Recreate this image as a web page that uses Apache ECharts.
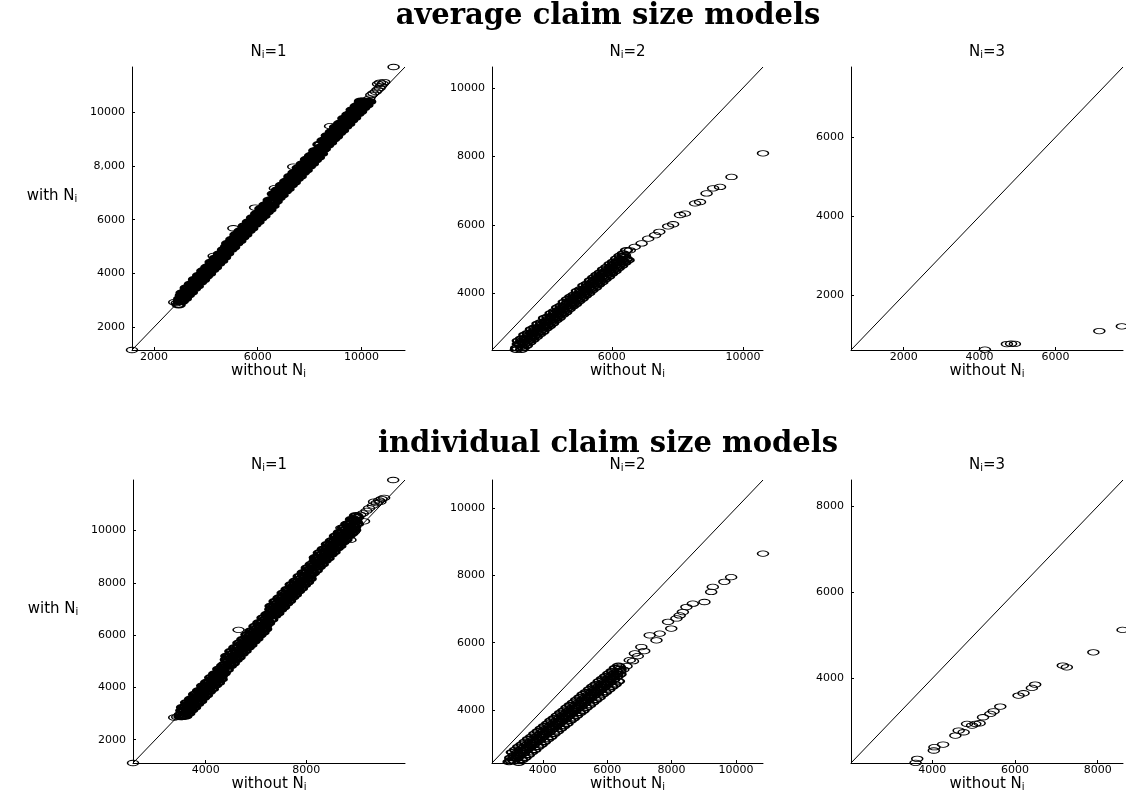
<!DOCTYPE html>
<html>
<head>
<meta charset="utf-8">
<script src="https://cdn.jsdelivr.net/npm/echarts@6/dist/echarts.min.js"></script>
<style>
html,body{margin:0;padding:0;background:#fff;}
#chart{width:1126px;height:792px;}
</style>
</head>
<body>
<div id="chart"></div>
<script>
// ---------------- DATA ----------------
const mainTitles = ['average claim size models', 'individual claim size models'];
const panelNs = ['1', '2', '3', '1', '2', '3'];

// average claim size, N_i = 1  ([without N_i, with N_i])
const avgN1Range = [1150, 11680];
const avgN1XTicks = [2000, 6000, 10000];
const avgN1YTicks = [2000, 4000, 6000, 8000, 10000];
const avgN1YLabels = ['2000', '4000', '6000', '8,000', '10000'];
const avgN1Band1 = [[2950,2830],[3070,2960],[3190,3060],[3300,3190],[3420,3290],[3540,3430],[3650,3520],[3770,3660],[3890,3760],[4000,3890],[4120,3990],[4240,4130],[4350,4220],[4470,4360],[4590,4460],[4700,4590],
[4820,4740],[4940,4880],[5050,4970],[5170,5110],[5290,5210],[5400,5340],[5520,5440],[5640,5580],[5750,5670],[5870,5810],[5990,5910],[6100,6040],[6220,6140],[6340,6280],[6450,6370],[6570,6510],
[6690,6680],[6800,6810],[6920,6910],[7040,7050],[7150,7140],[7270,7280],[7390,7380],[7500,7510],[7620,7610],[7740,7750],[7850,7840],[7970,7980],[8090,8080],[8200,8210],[8320,8310],[8440,8450],
[8550,8630],[8670,8760],[8790,8860],[8900,8990],[9020,9090],[9140,9230],[9250,9320],[9370,9460],[9490,9560],[9600,9690],[9720,9790],[9840,9930],[9950,10020],[10070,10160],[10190,10260],[10300,10390]];
const avgN1Band2 = [[2990,2950],[3110,3070],[3230,3190],[3340,3300],[3460,3420],[3580,3540],[3690,3650],[3810,3770],[3930,3890],[4040,4000],[4160,4120],[4280,4240],[4390,4350],[4510,4470],[4630,4590],[4740,4700],
[4860,4880],[4980,5000],[5090,5110],[5210,5230],[5330,5350],[5440,5460],[5560,5580],[5680,5700],[5790,5810],[5910,5930],[6030,6050],[6140,6160],[6260,6280],[6380,6400],[6490,6510],[6610,6630],
[6730,6820],[6840,6940],[6960,7050],[7080,7180],[7190,7280],[7310,7410],[7430,7520],[7540,7640],[7660,7750],[7780,7880],[7890,7980],[8010,8110],[8130,8220],[8240,8340],[8360,8450],[8480,8580],
[8590,8770],[8710,8880],[8830,9010],[8940,9110],[9060,9240],[9180,9350],[9290,9470],[9410,9580],[9530,9710],[9640,9810],[9760,9940],[9880,10050],[9990,10170],[10110,10280],[10230,10400]];
const avgN1Band3 = [[3010,3060],[3130,3160],[3250,3300],[3360,3390],[3480,3530],[3600,3630],[3710,3760],[3830,3860],[3950,4000],[4060,4090],[4180,4230],[4300,4330],[4410,4460],[4530,4560],[4650,4700],[4760,4790],
[4880,4990],[5000,5100],[5110,5230],[5230,5330],[5350,5470],[5460,5560],[5580,5700],[5700,5800],[5810,5930],[5930,6030],[6050,6170],[6160,6260],[6280,6400],[6400,6500],[6510,6630],[6630,6730],
[6750,6950],[6860,7040],[6980,7180],[7100,7280],[7210,7410],[7330,7510],[7450,7650],[7560,7740],[7680,7880],[7800,7980],[7910,8110],[8030,8210],[8150,8350],[8260,8440],[8380,8580],[8500,8680],
[8610,8890],[8730,8990],[8850,9130],[8960,9220],[9080,9360],[9200,9460],[9310,9590],[9430,9690],[9550,9830],[9660,9920],[9780,10060],[9900,10160],[10010,10290],[10130,10390]];
const avgN1Band4 = [[3070,3190],[3190,3310],[3310,3430],[3420,3540],[3540,3660],[3660,3780],[3770,3890],[3890,4010],[4010,4130],[4120,4240],[4240,4360],[4360,4480],[4470,4590],[4590,4710],[4710,4830],
[4820,5010],[4940,5130],[5060,5250],[5170,5360],[5290,5480],[5410,5600],[5520,5710],[5640,5830],[5760,5950],[5870,6060],[5990,6180],[6110,6300],[6220,6410],[6340,6530],[6460,6650],[6570,6760],
[6690,6955],[6810,7075],[6920,7185],[7040,7305],[7160,7425],[7270,7535],[7390,7655],[7510,7775],[7620,7885],[7740,8005],[7860,8125],[7970,8235],[8090,8355],[8210,8475],[8320,8585],[8440,8705],
[8560,8905],[8670,9015],[8790,9135],[8910,9255],[9020,9365],[9140,9485],[9260,9605],[9370,9715],[9490,9835],[9610,9955],[9720,10065],[9840,10185],[9960,10305],[10070,10415]];
const avgN1Band5 = [[3100,3280],[3260,3460],[3420,3600],[3580,3780],[3740,3930],[3900,4100],[4060,4240],[4220,4420],[4380,4570],[4540,4730],[4700,4890],
[4860,5120],[5020,5270],[5180,5450],[5340,5590],[5500,5770],[5660,5920],[5820,6080],[5980,6230],[6140,6410],[6300,6550],[6460,6730],
[6620,6960],[6780,7110],[6940,7290],[7100,7430],[7260,7610],[7420,7750],[7580,7930],[7740,8080],[7900,8250],[8060,8390],[8220,8570],
[8380,8800],[8540,8950],[8700,9130],[8860,9270],[9020,9450],[9180,9590],[9340,9770],[9500,9910],[9660,10090],[9820,10230],[9980,10410]];
const avgN1Sparse = [[1150,1150],[2780,2930],[2880,2900],[4300,4650],[5060,5680],[5900,6450],[6660,7170],[7370,7970],[8790,9480],
[10300,10500],[10380,10640],[10460,10700],[10550,10760],[10620,10830],[10700,10900],[10760,10980],[10820,11060],[10720,11100],[10640,11050],[10880,11120],[11240,11680]];

// average claim size, N_i = 2
const avgN2Range = [2350, 10610];
const avgN2XTicks = [6000, 10000];
const avgN2YTicks = [4000, 6000, 8000, 10000];
const avgN2Band1 = [[3150,2620],[3250,2680],[3350,2790],[3450,2840],[3550,2950],[3650,3000],[3750,3110],[3850,3160],[3950,3280],[4050,3320],[4150,3420],[4250,3480],[4350,3590],[4450,3640],[4550,3750],[4650,3830],[4750,3900],[4850,3960],[4950,4070],[5050,4120],[5150,4230],[5250,4280],[5350,4380],[5450,4460],[5550,4540],[5650,4610],[5750,4700],[5850,4770],[5950,4860],[6050,4920],[6150,5020],[6250,5100],[6350,5160],[6450,5260]];
const avgN2Band2 = [[3150,2525],[3250,2605],[3350,2685],[3450,2765],[3550,2845],[3650,2925],[3750,3005],[3850,3085],[3950,3165],[4050,3245],[4150,3325],[4250,3405],[4350,3485],[4450,3565],[4550,3645],[4650,3725],[4750,3805],[4850,3885],[4950,3965],[5050,4045],[5150,4125],[5250,4205],[5350,4285],[5450,4365],[5550,4445],[5650,4525],[5750,4605],[5850,4685],[5950,4765],[6050,4845],[6150,4925],[6250,5005],[6350,5085]];
const avgN2Band3 = [[3090,2360],[3100,2410],[3200,2500],[3300,2570],[3400,2660],[3500,2730],[3600,2820],[3700,2890],[3800,2980],[3900,3050],[4000,3140],[4100,3210],[4200,3300],[4300,3370],[4400,3460],[4500,3530],[4600,3620],[4700,3690],[4800,3780],[4900,3850],[5000,3940],[5100,4010],[5200,4100],[5300,4170],[5400,4260],[5500,4330],[5600,4420],[5700,4490],[5800,4580],[5900,4650],[6000,4740],[6100,4810],[6200,4900],[6300,4970],[6400,5060]];
const avgN2Band4 = [[3250,2445],[3350,2525],[3450,2605],[3550,2685],[3650,2765],[3750,2845],[3850,2925],[3950,3005],[4050,3085],[4150,3165],[4250,3245],[4350,3325],[4450,3405],[4550,3485],[4650,3565],[4750,3645],[4850,3725],[4950,3805],[5050,3885],[5150,3965],[5250,4045],[5350,4125],[5450,4205],[5550,4285],[5650,4365],[5750,4445],[5850,4525],[5950,4605],[6050,4685],[6150,4765],[6250,4845],[6350,4925],[6450,5005]];
const avgN2Band5 = [[3250,2360],[3300,2410],[3400,2480],[3500,2570],[3600,2650],[3700,2730],[3800,2810],[3900,2880],[4000,2980],[4100,3050],[4200,3130],[4300,3220],[4400,3290],[4500,3380],[4600,3450],[4700,3540],[4800,3620],[4900,3690],[5000,3780],[5100,3850],[5200,3940],[5300,4010],[5400,4100],[5500,4170],[5600,4260],[5700,4330],[5800,4420],[5900,4490],[6000,4580],[6100,4650],[6200,4740],[6300,4810],[6400,4900],[6500,4970]];
const avgN2Sparse = [[6400,5120],[6550,5260],[6700,5360],[6910,5460],[7110,5600],[7320,5700],[7450,5800],[7720,5960],[7870,6020],[8080,6290],[8230,6330],[8540,6630],[8690,6670],[8890,6920],[9090,7070],[9300,7110],[9650,7400],[10610,8090]];

// average claim size, N_i = 3
const avgN3Range = [610, 7780];
const avgN3XTicks = [2000, 4000, 6000];
const avgN3YTicks = [2000, 4000, 6000];
const avgN3Pts = [[4140,620],[4720,760],[4830,770],[4930,765],[7156,1090],[7750,1210]];

// individual claim size, N_i = 1
const indN1Range = [1110, 11930];
const indN1XTicks = [4000, 8000];
const indN1YTicks = [2000, 4000, 6000, 8000, 10000];
const indN1Band1 = [[3000,2880],[3100,2900],[3190,2900],[3310,3000],[3420,3130],[3540,3230],[3660,3370],[3780,3470],[3900,3610],[4010,3700],[4130,3840],[4250,3940],[4370,4080],[4490,4180],[4600,4310],
[4720,4580],[4840,4680],[4960,4820],[5080,4920],[5190,5050],[5310,5150],[5430,5290],[5550,5390],[5670,5530],[5780,5620],[5900,5760],[6020,5860],[6140,6000],[6260,6100],[6370,6230],
[6490,6500],[6610,6600],[6730,6740],[6850,6840],[6960,6970],[7080,7070],[7200,7210],[7320,7310],[7440,7450],[7550,7540],[7670,7680],[7790,7780],[7910,7920],[8030,8020],[8140,8150],
[8260,8370],[8380,8470],[8500,8610],[8620,8710],[8730,8840],[8850,8940],[8970,9080],[9090,9180],[9210,9320],[9320,9410],[9440,9550],[9560,9650],[9680,9790],[9800,9890],[9910,10020]];
const indN1Band2 = [[3060,2885],[3180,3005],[3300,3125],[3420,3245],[3530,3355],[3650,3475],[3770,3595],[3890,3715],[4010,3835],[4120,3945],[4240,4065],[4360,4185],[4480,4305],[4600,4425],[4710,4535],
[4830,4805],[4950,4925],[5070,5045],[5190,5165],[5300,5275],[5420,5395],[5540,5515],[5660,5635],[5780,5755],[5890,5865],[6010,5985],[6130,6105],[6250,6225],[6370,6345],[6480,6455],
[6600,6725],[6720,6845],[6840,6965],[6960,7085],[7070,7195],[7190,7315],[7310,7435],[7430,7555],[7550,7675],[7660,7785],[7780,7905],[7900,8025],[8020,8145],[8140,8265],[8250,8375],
[8370,8595],[8490,8715],[8610,8835],[8730,8955],[8840,9065],[8960,9185],[9080,9305],[9200,9425],[9320,9545],[9430,9655],[9550,9775],[9670,9895],[9790,10015],[9910,10135],[10020,10245]];
const indN1Band3 = [[3010,2960],[3130,3090],[3250,3190],[3370,3330],[3480,3430],[3600,3560],[3720,3660],[3840,3800],[3960,3900],[4070,4030],[4190,4130],[4310,4270],[4430,4370],[4550,4510],[4660,4610],
[4780,4890],[4900,4990],[5020,5130],[5140,5230],[5250,5360],[5370,5460],[5490,5600],[5610,5700],[5730,5840],[5840,5930],[5960,6070],[6080,6170],[6200,6310],[6320,6410],[6430,6540],
[6550,6810],[6670,6910],[6790,7050],[6910,7150],[7020,7280],[7140,7380],[7260,7520],[7380,7620],[7500,7760],[7610,7850],[7730,7990],[7850,8090],[7970,8230],[8090,8330],[8200,8460],
[8320,8680],[8440,8780],[8560,8920],[8680,9020],[8790,9150],[8910,9250],[9030,9390],[9150,9490],[9270,9630],[9380,9720],[9500,9860],[9620,9960],[9740,10100],[9860,10200],[9970,10330]];
const indN1Band4 = [[3070,3120],[3190,3240],[3310,3360],[3430,3480],[3540,3590],[3660,3710],[3780,3830],[3900,3950],[4020,4070],[4130,4180],[4250,4300],[4370,4420],[4490,4540],[4610,4660],[4720,4770],
[4840,5065],[4960,5185],[5080,5305],[5200,5425],[5310,5535],[5430,5655],[5550,5775],[5670,5895],[5790,6015],[5900,6125],[6020,6245],[6140,6365],[6260,6485],[6380,6605],[6490,6715],
[6610,6985],[6730,7105],[6850,7225],[6970,7345],[7080,7455],[7200,7575],[7320,7695],[7440,7815],[7560,7935],[7670,8045],[7790,8165],[7910,8285],[8030,8405],[8150,8525],[8260,8635],
[8380,8855],[8500,8975],[8620,9095],[8740,9215],[8850,9325],[8970,9445],[9090,9565],[9210,9685],[9330,9805],[9440,9915],[9560,10035],[9680,10155],[9800,10275],[9920,10395],[10030,10505]];
const indN1Band5 = [[3100,3240],[3260,3420],[3420,3560],[3580,3740],[3740,3880],[3900,4060],[4060,4200],[4220,4380],[4380,4520],[4540,4700],[4700,4840],
[4860,5200],[5020,5380],[5180,5520],[5340,5700],[5500,5840],[5660,6020],[5820,6160],[5980,6340],[6140,6480],[6300,6660],[6460,6800],
[6620,7110],[6780,7290],[6940,7430],[7100,7610],[7260,7750],[7420,7930],[7580,8070],[7740,8250],[7900,8390],[8060,8570],[8220,8710],
[8380,8970],[8540,9150],[8700,9290],[8860,9470],[9020,9610],[9180,9790],[9340,9930],[9500,10110],[9660,10250],[9820,10430],[9980,10570]];
const indN1Sparse = [[1110,1110],[2750,2850],[2870,2870],[5310,6200],[9400,10100],[9600,10250],[9760,9640],[9750,10300],[9900,9950],[9900,10450],[10050,10500],[10150,10600],[10250,10650],[10300,10350],[10400,10750],[10500,10850],[10650,10950],[10800,11050],[10900,11150],[11000,11200],[11100,11250],[10950,11100],[10700,11100],[11460,11930]];

// individual claim size, N_i = 2
const indN2Range = [2420, 10840];
const indN2XTicks = [4000, 6000, 8000, 10000];
const indN2YTicks = [4000, 6000, 8000, 10000];
const indN2Band1 = [[3050,2740],[3150,2810],[3250,2900],[3350,2970],[3450,3050],[3550,3130],[3650,3200],[3750,3290],[3850,3360],[3950,3440],[4050,3520],[4150,3590],[4250,3680],[4350,3750],[4450,3830],[4550,3910],[4650,3980],[4750,4070],[4850,4140],[4950,4220],[5050,4300],[5150,4370],[5250,4460],[5350,4530],[5450,4610],[5550,4690],[5650,4760],[5750,4850],[5850,4920],[5950,5000],[6050,5080],[6150,5150],[6250,5240],[6350,5310]];
const indN2Band2 = [[3000,2570],[3100,2650],[3200,2720],[3300,2800],[3400,2880],[3500,2960],[3600,3040],[3700,3110],[3800,3190],[3900,3270],[4000,3350],[4100,3430],[4200,3500],[4300,3580],[4400,3660],[4500,3740],[4600,3820],[4700,3890],[4800,3970],[4900,4050],[5000,4130],[5100,4210],[5200,4280],[5300,4360],[5400,4440],[5500,4520],[5600,4600],[5700,4670],[5800,4750],[5900,4830],[6000,4910],[6100,4990],[6200,5060],[6300,5140],[6400,5220]];
const indN2Band3 = [[2950,2450],[3000,2490],[3100,2570],[3200,2640],[3300,2730],[3400,2800],[3500,2870],[3600,2960],[3700,3040],[3800,3110],[3900,3200],[4000,3270],[4100,3340],[4200,3430],[4300,3500],[4400,3590],[4500,3650],[4600,3740],[4700,3820],[4800,3890],[4900,3980],[5000,4050],[5100,4120],[5200,4210],[5300,4280],[5400,4370],[5500,4430],[5600,4520],[5700,4600],[5800,4670],[5900,4760],[6000,4820],[6100,4910],[6200,4990],[6300,5060],[6400,5150]];
const indN2Band4 = [[3100,2490],[3200,2560],[3300,2640],[3400,2720],[3500,2800],[3600,2880],[3700,2950],[3800,3030],[3900,3110],[4000,3190],[4100,3270],[4200,3340],[4300,3420],[4400,3500],[4500,3580],[4600,3660],[4700,3730],[4800,3810],[4900,3890],[5000,3970],[5100,4050],[5200,4120],[5300,4200],[5400,4280],[5500,4360],[5600,4440],[5700,4510],[5800,4590],[5900,4670],[6000,4750],[6100,4830],[6200,4900],[6300,4980],[6400,5060]];
const indN2Band5 = [[3250,2430],[3350,2510],[3450,2580],[3550,2660],[3650,2740],[3750,2810],[3850,2900],[3950,2970],[4050,3050],[4150,3130],[4250,3200],[4350,3290],[4450,3360],[4550,3440],[4650,3520],[4750,3590],[4850,3680],[4950,3750],[5050,3830],[5150,3910],[5250,3980],[5350,4070],[5450,4140],[5550,4220],[5650,4300],[5750,4370],[5850,4460],[5950,4530],[6050,4610],[6150,4690],[6250,4760],[6350,4850]];
const indN2Sparse = [[6190,5080],[6390,5280],[6500,5200],[6600,5300],[6700,5480],[6800,5450],[6860,5680],[6950,5600],[7060,5870],[7150,5750],[7320,6220],[7530,6070],[7630,6270],[7890,6620],[7990,6420],[8150,6720],[8250,6810],[8350,6910],[8460,7060],[8660,7160],[9020,7210],[9230,7510],[9280,7660],[9640,7810],[9850,7950],[10840,8650]];

// individual claim size, N_i = 3
const indN3Range = [2040, 8610];
const indN3XTicks = [4000, 6000, 8000];
const indN3YTicks = [4000, 6000, 8000];
const indN3Pts = [[3600,2045],[3640,2137],[4040,2330],[4055,2406],[4265,2469],[4561,2677],[4641,2794],[4761,2754],[4843,2949],[4964,2910],[5043,2949],[5147,2963],[5229,3102],[5405,3181],[5484,3241],[5646,3350],[6087,3606],[6207,3659],[6409,3784],[6489,3861],[7156,4302],[7253,4262],[7894,4610],[8600,5130]];

// ---------------- LAYOUT / STYLE ----------------
const SANS = 'DejaVu Sans';
const panels = [
  {band: [].concat(avgN1Band1, avgN1Band2, avgN1Band3, avgN1Band4, avgN1Band5), sparse: avgN1Sparse, bw: 2.4, range: avgN1Range, xt: avgN1XTicks, yt: avgN1YTicks, yl: avgN1YLabels, box: [132, 67, 273, 283], yName: true},
  {band: [].concat(avgN2Band1, avgN2Band2, avgN2Band3, avgN2Band4, avgN2Band5), sparse: avgN2Sparse, bw: 1.7, range: avgN2Range, xt: avgN2XTicks, yt: avgN2YTicks, box: [492, 67, 271, 283]},
  {band: [], sparse: avgN3Pts, bw: 1.2, range: avgN3Range, xt: avgN3XTicks, yt: avgN3YTicks, box: [851, 67, 272, 283]},
  {band: [].concat(indN1Band1, indN1Band2, indN1Band3, indN1Band4, indN1Band5), sparse: indN1Sparse, bw: 2.4, range: indN1Range, xt: indN1XTicks, yt: indN1YTicks, box: [133, 480, 272, 283], yName: true},
  {band: [].concat(indN2Band1, indN2Band2, indN2Band3, indN2Band4, indN2Band5), sparse: indN2Sparse, bw: 1.7, range: indN2Range, xt: indN2XTicks, yt: indN2YTicks, box: [492, 480, 271, 283]},
  {band: [], sparse: indN3Pts, bw: 1.2, range: indN3Range, xt: indN3XTicks, yt: indN3YTicks, box: [851, 480, 272, 283]}
];

function subRich(size) {
  return {
    n: {fontFamily: SANS, fontSize: size, fontWeight: 'normal', lineHeight: size + 1, color: '#000'},
    s: {fontFamily: SANS, fontSize: Math.round(size * 0.68), fontWeight: 'normal', lineHeight: 6, verticalAlign: 'bottom', color: '#000'}
  };
}

const grid = [], xAxis = [], yAxis = [], series = [];
const title = [
  {text: mainTitles[0], left: 608, top: 16, textAlign: 'center', textVerticalAlign: 'middle', padding: 0,
   textStyle: {fontFamily: 'DejaVu Serif', fontWeight: 'bold', fontSize: 29, color: '#000'}},
  {text: mainTitles[1], left: 608, top: 444, textAlign: 'center', textVerticalAlign: 'middle', padding: 0,
   textStyle: {fontFamily: 'DejaVu Serif', fontWeight: 'bold', fontSize: 29, color: '#000'}}
];

panels.forEach((p, i) => {
  const [l, t, w, h] = p.box;
  grid.push({left: l, top: t, width: w, height: h, containLabel: false, outerBoundsMode: 'none'});
  title.push({
    text: '{n|N}{s|i}{n|=' + panelNs[i] + '}',
    left: l + w / 2, top: t - 15, textAlign: 'center', textVerticalAlign: 'middle', padding: 0,
    textStyle: {fontWeight: 'normal', rich: subRich(15)}
  });
  xAxis.push({
    type: 'value', gridIndex: i, min: p.range[0], max: p.range[1],
    splitLine: {show: false},
    axisLine: {show: true, onZero: false, lineStyle: {color: '#000', width: 1}},
    axisTick: {show: true, inside: true, length: 3, customValues: p.xt, lineStyle: {color: '#000'}},
    axisLabel: {customValues: p.xt, margin: 2, fontFamily: SANS, fontSize: 11, color: '#000',
      formatter: v => String(v)},
    name: '{n|without N}{s|i}', nameLocation: 'middle', nameGap: 8,
    nameTextStyle: {rich: subRich(15)}
  });
  const yl = p.yl || p.yt.map(String);
  yAxis.push({
    type: 'value', gridIndex: i, min: p.range[0], max: p.range[1],
    splitLine: {show: false},
    axisLine: {show: true, onZero: false, lineStyle: {color: '#000', width: 1}},
    axisTick: {show: true, inside: true, length: 3, customValues: p.yt, lineStyle: {color: '#000'}},
    axisLabel: {customValues: p.yt, margin: 7, fontFamily: SANS, fontSize: 11, color: '#000',
      formatter: v => { const k = p.yt.indexOf(v); return k >= 0 ? yl[k] : String(v); }},
    name: p.yName ? '{n|with N}{s|i}' : '', nameLocation: 'middle', nameRotate: 0, nameGap: 80,
    nameTextStyle: {rich: subRich(15), align: 'center', verticalAlign: 'middle', padding: [0, 0, 24, 0]}
  });
  series.push({
    type: 'line', xAxisIndex: i, yAxisIndex: i,
    data: [[p.range[0], p.range[0]], [p.range[1], p.range[1]]],
    symbol: 'none', lineStyle: {color: '#000', width: 1}, silent: true, z: 1
  });
  // dense core of the cloud (thousands of overlapping circles in the original)
  series.push({
    type: 'scatter', xAxisIndex: i, yAxisIndex: i, data: p.band,
    symbol: 'circle', symbolSize: [11, 5.5], clip: false, silent: true, z: 2,
    itemStyle: {color: 'rgba(0,0,0,0)', borderColor: '#000', borderWidth: p.bw, opacity: 1}
  });
  series.push({
    type: 'scatter', xAxisIndex: i, yAxisIndex: i, data: p.sparse,
    symbol: 'circle', symbolSize: [11, 5.5], clip: false, silent: true, z: 3,
    itemStyle: {color: 'rgba(0,0,0,0)', borderColor: '#000', borderWidth: 1.1, opacity: 1}
  });
});

const chart = echarts.init(document.getElementById('chart'), null, {renderer: 'canvas'});
chart.setOption({
  backgroundColor: '#fff',
  animation: false,
  title, grid, xAxis, yAxis, series
});
</script>
</body>
</html>
